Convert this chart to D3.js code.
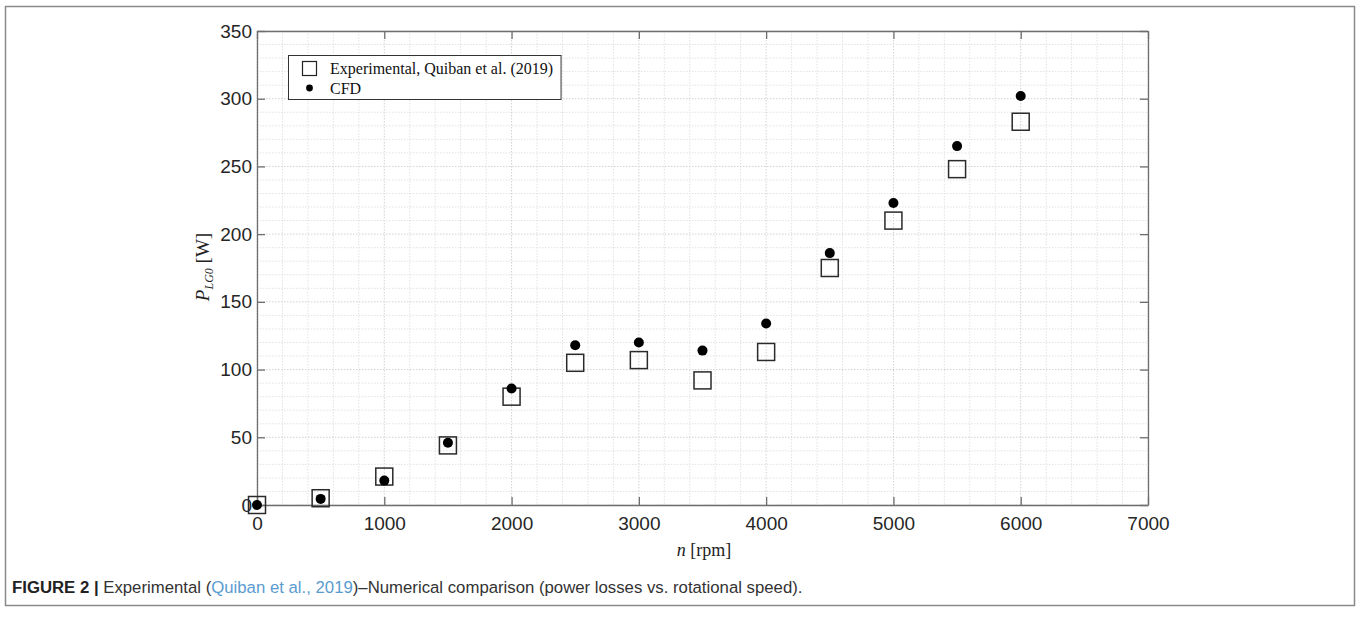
<!DOCTYPE html>
<html>
<head>
<meta charset="utf-8">
<script src="https://cdn.jsdelivr.net/npm/d3@7"></script>
<style>
  body { margin: 0; background: #fff; }
  svg { display: block; }
</style>
</head>
<body>
<div class="chart"></div>
<script>
// rotational speed [rpm]
const speeds = [0, 500, 1000, 1500, 2000, 2500, 3000, 3500, 4000, 4500, 5000, 5500, 6000];
// power losses [W]
const experimental = [0, 5, 21, 44, 80, 105, 107, 92, 113, 175, 210, 248, 283];
const cfd = [0, 4.5, 18, 46, 86, 118, 120, 114, 134, 186, 223, 265, 302];
const xTicks = [0, 1000, 2000, 3000, 4000, 5000, 6000, 7000];
const yTicks = [0, 50, 100, 150, 200, 250, 300, 350];
const legendLabels = ["Experimental, Quiban et al. (2019)", "CFD"];

let width = 1357, height = 629;
let mLeft = 257, mRight = 1148, mTop = 31, mBottom = 505;

let svg = d3.select("div.chart").append("svg")
  .attr("width", width)
  .attr("height", height);

// outer figure frame
svg.append("rect")
  .attr("x", 5.5).attr("y", 6.5)
  .attr("width", 1349).attr("height", 599)
  .attr("fill", "none")
  .attr("stroke", "#8a8a8a")
  .attr("stroke-width", 1.5);

let x = d3.scaleLinear().domain([0, 7000]).range([mLeft, mRight]);
let y = d3.scaleLinear().domain([0, 350]).range([mBottom, mTop]);

// grid: minor + major, dotted
let grid = svg.append("g");
grid.selectAll("line.v")
  .data(d3.range(0, 7001, 200))
  .enter().append("line")
  .attr("x1", d => x(d)).attr("x2", d => x(d))
  .attr("y1", mTop).attr("y2", mBottom)
  .attr("stroke", d => d % 1000 === 0 ? "#d2d2d2" : "#e2e2e2")
  .attr("stroke-dasharray", "1.5,1.5")
  .attr("stroke-width", 1);
grid.selectAll("line.h")
  .data(d3.range(0, 351, 10))
  .enter().append("line")
  .attr("x1", mLeft).attr("x2", mRight)
  .attr("y1", d => y(d)).attr("y2", d => y(d))
  .attr("stroke", d => d % 50 === 0 ? "#d2d2d2" : "#e2e2e2")
  .attr("stroke-dasharray", "1.5,1.5")
  .attr("stroke-width", 1);

// axes (ticks inside, box on)
let tickFont = "Liberation Sans, Arial, sans-serif";
let xAxis = svg.append("g")
  .attr("transform", "translate(0," + mBottom + ")")
  .call(d3.axisBottom(x).tickValues(xTicks).tickFormat(d3.format("d"))
    .tickSizeInner(-8).tickSizeOuter(0).tickPadding(9));
let xTop = svg.append("g")
  .attr("transform", "translate(0," + mTop + ")")
  .call(d3.axisTop(x).tickValues(xTicks).tickSizeInner(-8).tickSizeOuter(0).tickFormat(""));
let yAxis = svg.append("g")
  .attr("transform", "translate(" + mLeft + ",0)")
  .call(d3.axisLeft(y).tickValues(yTicks).tickSizeInner(-8).tickSizeOuter(0).tickPadding(5));
let yRight = svg.append("g")
  .attr("transform", "translate(" + mRight + ",0)")
  .call(d3.axisRight(y).tickValues(yTicks).tickSizeInner(-8).tickSizeOuter(0).tickFormat(""));

[xAxis, xTop, yAxis, yRight].forEach(a => {
  a.select(".domain").attr("stroke", "#6e6e6e").attr("stroke-width", 1.3);
  a.selectAll(".tick line").attr("stroke", "#6e6e6e").attr("stroke-width", 1.3);
  a.selectAll(".tick text")
    .attr("font-family", tickFont)
    .attr("font-size", 19)
    .attr("fill", "#262626");
});
xAxis.selectAll(".tick text").attr("dy", "0.85em");

// markers
let marks = svg.append("g");
marks.selectAll("rect.exp")
  .data(speeds.map((s, i) => [s, experimental[i]]))
  .enter().append("rect")
  .attr("x", d => x(d[0]) - 8.5)
  .attr("y", d => y(d[1]) - 8.5)
  .attr("width", 17).attr("height", 17)
  .attr("fill", "none")
  .attr("stroke", "#2a2a2a")
  .attr("stroke-width", 1.5);
marks.selectAll("circle.cfd")
  .data(speeds.map((s, i) => [s, cfd[i]]))
  .enter().append("circle")
  .attr("cx", d => x(d[0]))
  .attr("cy", d => y(d[1]))
  .attr("r", 5)
  .attr("fill", "#000");

// legend
let serif = "Liberation Serif, Times New Roman, serif";
let legend = svg.append("g");
let legBox = legend.append("rect")
  .attr("x", 288.5).attr("y", 55.5)
  .attr("height", 44)
  .attr("fill", "#fff")
  .attr("stroke", "#333")
  .attr("stroke-width", 1);
legend.append("rect")
  .attr("x", 302.5).attr("y", 61.5)
  .attr("width", 14).attr("height", 14)
  .attr("fill", "none").attr("stroke", "#222").attr("stroke-width", 1.2);
legend.append("circle")
  .attr("cx", 309.5).attr("cy", 88).attr("r", 3.4).attr("fill", "#000");
let legText = legend.selectAll("text")
  .data(legendLabels)
  .enter().append("text")
  .attr("x", 330)
  .attr("y", (d, i) => 74 + i * 19.5)
  .attr("font-family", serif)
  .attr("font-size", 16)
  .attr("fill", "#111")
  .text(d => d);
let maxLen = d3.max(legText.nodes(), n => n.getComputedTextLength());
legBox.attr("width", 330 + maxLen + 8 - 288.5);

// axis titles
let xt = svg.append("text")
  .attr("x", 704).attr("y", 556)
  .attr("text-anchor", "middle")
  .attr("font-family", serif)
  .attr("font-size", 18)
  .attr("fill", "#222");
xt.append("tspan").attr("font-style", "italic").text("n");
xt.append("tspan").text(" [rpm]");

let yt = svg.append("text")
  .attr("transform", "translate(209,267) rotate(-90)")
  .attr("text-anchor", "middle")
  .attr("font-family", serif)
  .attr("font-size", 19)
  .attr("fill", "#222");
yt.append("tspan").attr("font-style", "italic").text("P");
yt.append("tspan").attr("font-style", "italic").attr("font-size", 12).attr("dy", 4).text("LG0");
yt.append("tspan").attr("dy", -4).text(" [W]");

// caption, fitted to the reference width
let cap = svg.append("text")
  .attr("x", 12).attr("y", 593)
  .attr("font-family", "Liberation Sans Narrow, Liberation Sans, Arial, sans-serif")
  .attr("font-size", 18)
  .attr("fill", "#333");
cap.append("tspan").attr("font-weight", "bold").attr("fill", "#222").text("FIGURE 2 | ");
cap.append("tspan").text("Experimental (");
cap.append("tspan").attr("fill", "#5a9bd0").text("Quiban et al., 2019");
cap.append("tspan").text(")–Numerical comparison (power losses vs. rotational speed).");
let capLen = cap.node().getComputedTextLength();
if (capLen > 0) cap.attr("font-size", Math.min(19, 18 * 791 / capLen));
</script>
</body>
</html>
